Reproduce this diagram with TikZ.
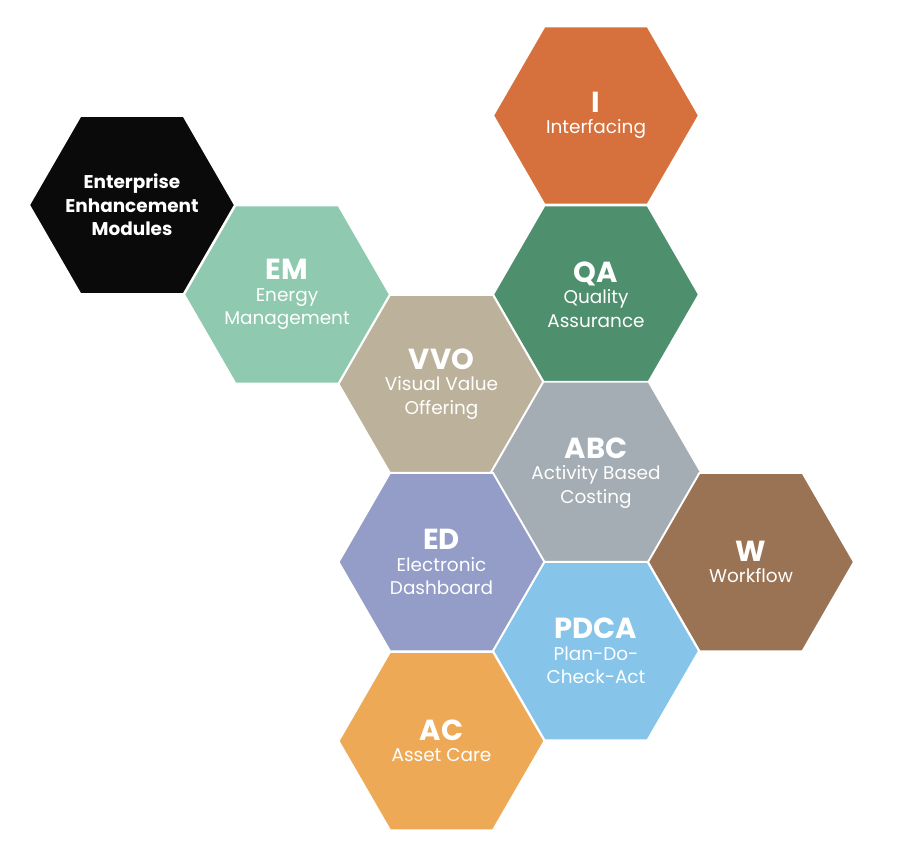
\documentclass[tikz,border=0pt]{standalone}
\usepackage{fontspec}
\setmainfont{Poppins}
\usepackage{tikz}
\usetikzlibrary{shapes.geometric}
\usepackage{xcolor}
\definecolor{colI}{HTML}{D6703C}
\definecolor{colEEM}{HTML}{0A0A0A}
\definecolor{colEM}{HTML}{8FC9AF}
\definecolor{colVVO}{HTML}{BCB29B}
\definecolor{colQA}{HTML}{4E8F6E}
\definecolor{colABC}{HTML}{A3ADB3}
\definecolor{colED}{HTML}{939DC7}
\definecolor{colW}{HTML}{9A7354}
\definecolor{colPDCA}{HTML}{86C4EA}
\definecolor{colAC}{HTML}{EEA957}
\newcommand{\hexhead}{\fontsize{16.5}{18}\bfseries\selectfont}
\newcommand{\hexsub}{\fontsize{10.5}{13.2}\selectfont}

\begin{document}
\begin{tikzpicture}[x=0.02cm, y=-0.02cm, hex/.style={regular polygon, regular polygon sides=6, minimum size=0.02cm*206, inner sep=0pt, draw=white, line width=1.1pt, text=white, align=center, font=\hexsub}, titletext/.style={text=white, align=center, font=\fontsize{10.5}{13.4}\bfseries\selectfont}]
\useasboundingbox (0,0) rectangle (909,850);
\node[hex, fill=colEEM, label={[titletext]center:Enterprise\\Enhancement\\Modules}] (eem) at (132,205) {};
\node[hex, fill=colI] (i) at (596,115.5) {{\hexhead I}\\[-1pt] Interfacing};
\node[hex, fill=colEM] (em) at (287,294.5) {{\hexhead EM}\\[-1pt] Energy\\ Management};
\node[hex, fill=colQA] (qa) at (596,294.5) {{\hexhead QA}\\[-1pt] Quality\\ Assurance};
\node[hex, fill=colVVO] (vvo) at (441.5,384) {{\hexhead VVO}\\[-1pt] Visual Value\\ Offering};
\node[hex, fill=colABC] (abc) at (596,473) {{\hexhead ABC}\\[-1pt] Activity Based\\ Costing};
\node[hex, fill=colED] (ed) at (441.5,562) {{\hexhead ED}\\[-1pt] Electronic\\ Dashboard};
\node[hex, fill=colW] (w) at (751,562) {{\hexhead W}\\[-1pt] Workflow};
\node[hex, fill=colPDCA] (pdca) at (596,651) {{\hexhead PDCA}\\[-1pt] Plan-Do-\\ Check-Act};
\node[hex, fill=colAC] (ac) at (441.5,741) {{\hexhead AC}\\[-1pt] Asset Care};
\end{tikzpicture}
\end{document}
